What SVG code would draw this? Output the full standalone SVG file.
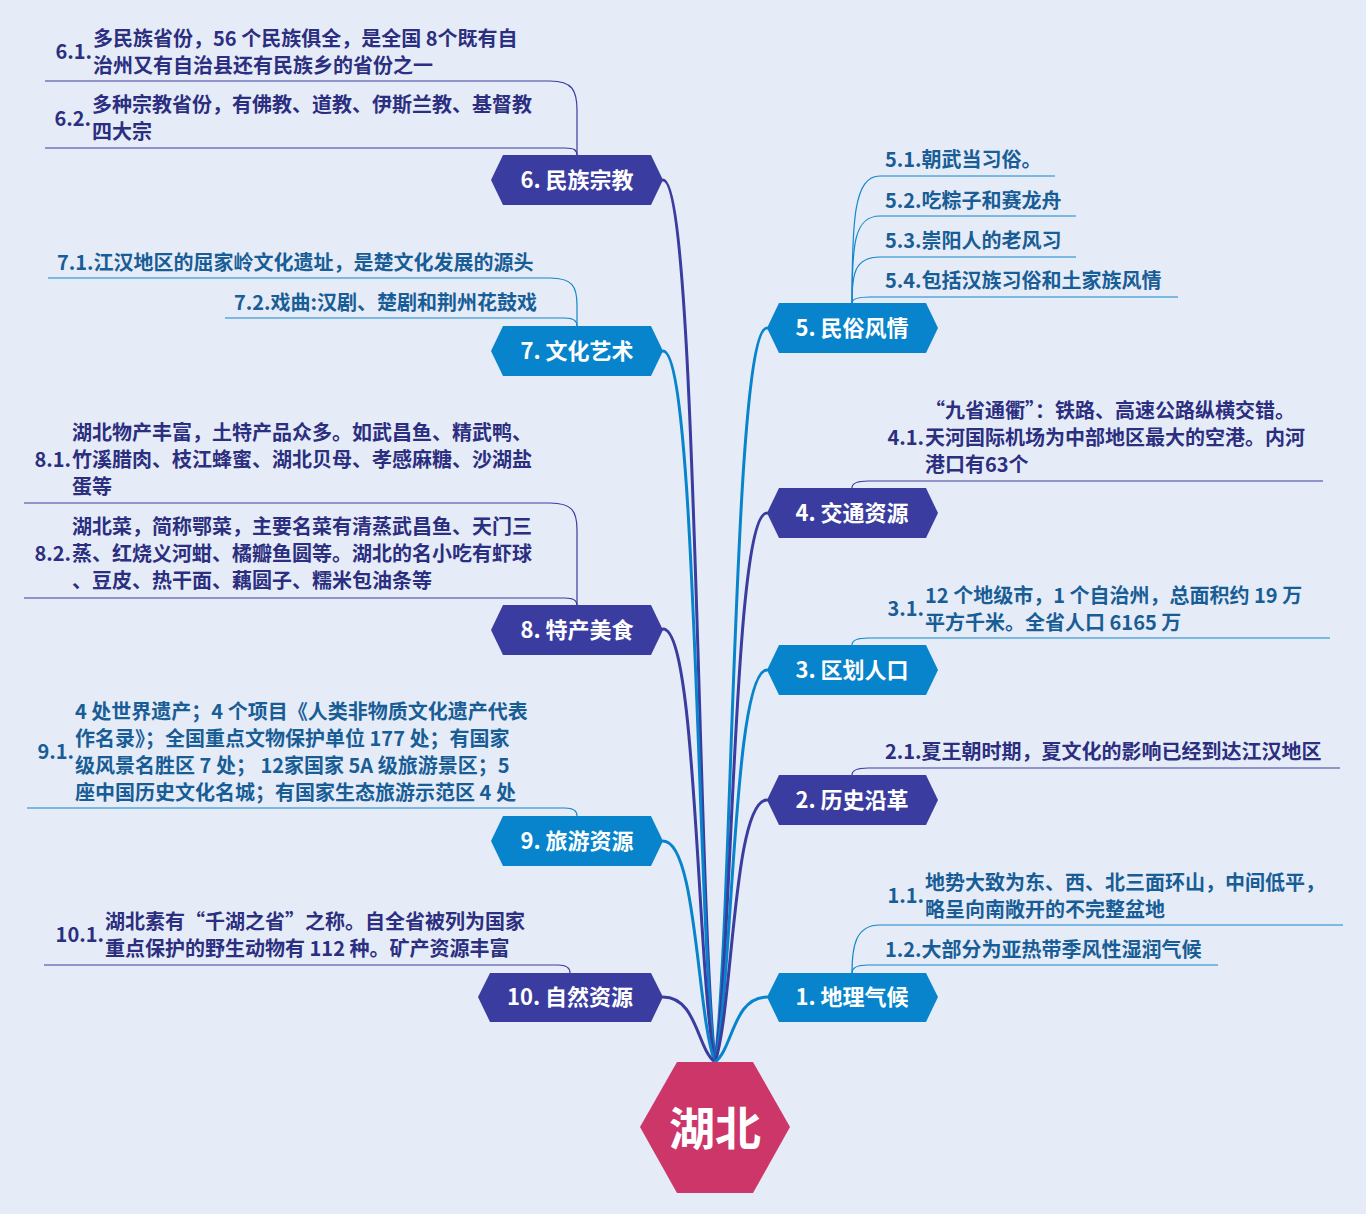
<svg xmlns="http://www.w3.org/2000/svg" width="1366" height="1214" viewBox="0 0 1366 1214">
<style>
.bg{fill:#e5ecf7}
.nd{fill:#3a3d9f}
.nl{fill:#0784cb}
.nt{font-family:"Noto Sans CJK SC","Noto Sans",sans-serif;font-size:22px;font-weight:bold;fill:#fff;text-anchor:middle}
.st{font-family:"Noto Sans CJK SC","Noto Sans",sans-serif;font-size:20px;font-weight:600}
.sd{fill:#2c2e80}
.sl{fill:#195d96}
.lb{text-anchor:end}
.cd{fill:none;stroke:#3a3d9f;stroke-width:3;stroke-linecap:round}
.cl{fill:none;stroke:#0784cb;stroke-width:3;stroke-linecap:round}
.ud{fill:none;stroke:#3a3d9f;stroke-width:1.2}
.ul{fill:none;stroke:#1486c9;stroke-width:1.2}
</style>
<rect class="bg" x="0" y="0" width="1366" height="1214"/>

<g id="connectors">
<path class="cd" d="M715,1062 C697,886 697,180 663,180"/>
<path class="cl" d="M715,1062 C697,920 697,351 663,351"/>
<path class="cd" d="M715,1062 C697,975 697,629 663,629"/>
<path class="cl" d="M715,1062 C697,1018 697,841 663,841"/>
<path class="cd" d="M715,1062 C697,1049 697,997 663,997"/>
<path class="cl" d="M715,1062 C733,915 733,328 767,328"/>
<path class="cd" d="M715,1062 C733,952 733,513 767,513"/>
<path class="cl" d="M715,1062 C733,984 733,670 767,670"/>
<path class="cd" d="M715,1062 C733,1010 733,800 767,800"/>
<path class="cl" d="M715,1062 C733,1049 733,997 767,997"/>
<path class="ud" d="M577,155 V110 C577,90 572,81 550,81 H45"/>
<path class="ud" d="M577,155 C577,150 574,148 565,148 H45"/>
<path class="ul" d="M577,326 V305 C577,286 572,278 550,278 H48"/>
<path class="ul" d="M577,326 C577,321 574,318 565,318 H225"/>
<path class="ud" d="M577,605 V530 C577,511 572,503 550,503 H24"/>
<path class="ud" d="M577,605 C577,601 574,598 565,598 H24"/>
<path class="ul" d="M577,816 C577,811 574,808 565,808 H27"/>
<path class="ud" d="M570,973 C570,968 567,965 558,965 H44"/>
<path class="ul" d="M852,303 C852,220 854,176 880,176 H1055"/>
<path class="ul" d="M852,303 C852,245 854,216 880,216 H1076"/>
<path class="ul" d="M852,303 C852,275 854,257 880,257 H1076"/>
<path class="ul" d="M852,303 C852,300 856,297 870,297 H1178"/>
<path class="ud" d="M852,488 C852,484 856,481 868,481 H1323"/>
<path class="ul" d="M852,645 C852,641 856,638 868,638 H1330"/>
<path class="ud" d="M852,775 C852,771 856,768 868,768 H1340"/>
<path class="ul" d="M852,973 C852,945 856,925 880,925 H1343"/>
<path class="ul" d="M852,973 C852,969 856,965 868,965 H1218"/>
</g>

<g id="hub">
<polygon points="677,1062 753,1062 790,1127 753,1193 677,1193 640,1127" fill="#cc3669"/>
<text x="715" y="1145" font-family="Noto Sans CJK SC, sans-serif" font-size="46" font-weight="bold" fill="#fff" text-anchor="middle">湖北</text>
</g>

<g id="n6">
<polygon class="nd" points="503,155 651,155 663,180 651,205 503,205 491,180"/>
<text class="nt" x="577" y="188">6. 民族宗教</text>
</g>
<g id="n6-1">
<text class="st sd lb" x="92" y="59">6.1.</text>
<text class="st sd" x="93"><tspan y="46">多民族省份，56 个民族俱全，是全国 8个既有自</tspan><tspan x="93" y="73">治州又有自治县还有民族乡的省份之一</tspan></text>
</g>
<g id="n6-2">
<text class="st sd lb" x="91" y="126">6.2.</text>
<text class="st sd" x="92"><tspan y="112">多种宗教省份，有佛教、道教、伊斯兰教、基督教</tspan><tspan x="92" y="139">四大宗</tspan></text>
</g>

<g id="n7">
<polygon class="nl" points="503,326 651,326 663,351 651,376 503,376 491,351"/>
<text class="nt" x="577" y="359">7. 文化艺术</text>
</g>
<g id="n7-1"><text class="st sl" x="57" y="270">7.1.江汉地区的屈家岭文化遗址，是楚文化发展的源头</text></g>
<g id="n7-2"><text class="st sl" x="234" y="310">7.2.戏曲:汉剧、楚剧和荆州花鼓戏</text></g>

<g id="n8">
<polygon class="nd" points="503,605 651,605 663,630 651,655 503,655 491,630"/>
<text class="nt" x="577" y="638">8. 特产美食</text>
</g>
<g id="n8-1">
<text class="st sd lb" x="71" y="467">8.1.</text>
<text class="st sd" x="72"><tspan y="440">湖北物产丰富，土特产品众多。如武昌鱼、精武鸭、</tspan><tspan x="72" y="467">竹溪腊肉、枝江蜂蜜、湖北贝母、孝感麻糖、沙湖盐</tspan><tspan x="72" y="494">蛋等</tspan></text>
</g>
<g id="n8-2">
<text class="st sd lb" x="71" y="561">8.2.</text>
<text class="st sd" x="72"><tspan y="534">湖北菜，简称鄂菜，主要名菜有清蒸武昌鱼、天门三</tspan><tspan x="72" y="561">蒸、红烧义河蚶、橘瓣鱼圆等。湖北的名小吃有虾球</tspan><tspan x="72" y="588">、豆皮、热干面、藕圆子、糯米包油条等</tspan></text>
</g>

<g id="n9">
<polygon class="nl" points="503,816 651,816 663,841 651,866 503,866 491,841"/>
<text class="nt" x="577" y="849">9. 旅游资源</text>
</g>
<g id="n9-1">
<text class="st sl lb" x="74" y="759">9.1.</text>
<text class="st sl" x="75"><tspan y="719">4 处世界遗产；4 个项目《人类非物质文化遗产代表</tspan><tspan x="75" y="746">作名录》；全国重点文物保护单位 177 处；有国家</tspan><tspan x="75" y="773">级风景名胜区 7 处； 12家国家 5A 级旅游景区；5</tspan><tspan x="75" y="800">座中国历史文化名城；有国家生态旅游示范区 4 处</tspan></text>
</g>

<g id="n10">
<polygon class="nd" points="490,973 651,973 663,997 651,1022 490,1022 478,997"/>
<text class="nt" x="570" y="1005">10. 自然资源</text>
</g>
<g id="n10-1">
<text class="st sd lb" x="104" y="942">10.1.</text>
<text class="st sd" x="105"><tspan y="929">湖北素有“千湖之省”之称。自全省被列为国家</tspan><tspan x="105" y="956">重点保护的野生动物有 112 种。矿产资源丰富</tspan></text>
</g>

<g id="n5">
<polygon class="nl" points="779,303 926,303 938,328 926,353 779,353 767,328"/>
<text class="nt" x="852" y="336">5. 民俗风情</text>
</g>
<g id="n5-1"><text class="st sl" x="885" y="167">5.1.朝武当习俗。</text></g>
<g id="n5-2"><text class="st sl" x="885" y="208">5.2.吃粽子和赛龙舟</text></g>
<g id="n5-3"><text class="st sl" x="885" y="248">5.3.崇阳人的老风习</text></g>
<g id="n5-4"><text class="st sl" x="885" y="288">5.4.包括汉族习俗和土家族风情</text></g>

<g id="n4">
<polygon class="nd" points="779,488 926,488 938,513 926,538 779,538 767,513"/>
<text class="nt" x="852" y="521">4. 交通资源</text>
</g>
<g id="n4-1">
<text class="st sd lb" x="924" y="445">4.1.</text>
<text class="st sd" x="925"><tspan y="418">“九省通衢”：铁路、高速公路纵横交错。</tspan><tspan x="925" y="445">天河国际机场为中部地区最大的空港。内河</tspan><tspan x="925" y="472">港口有63个</tspan></text>
</g>

<g id="n3">
<polygon class="nl" points="779,645 926,645 938,670 926,695 779,695 767,670"/>
<text class="nt" x="852" y="678">3. 区划人口</text>
</g>
<g id="n3-1">
<text class="st sl lb" x="924" y="616">3.1.</text>
<text class="st sl" x="925"><tspan y="603">12 个地级市，1 个自治州，总面积约 19 万</tspan><tspan x="925" y="630">平方千米。全省人口 6165 万</tspan></text>
</g>

<g id="n2">
<polygon class="nd" points="779,775 926,775 938,800 926,825 779,825 767,800"/>
<text class="nt" x="852" y="808">2. 历史沿革</text>
</g>
<g id="n2-1"><text class="st sd" x="885" y="759">2.1.夏王朝时期，夏文化的影响已经到达江汉地区</text></g>

<g id="n1">
<polygon class="nl" points="779,973 926,973 938,997 926,1022 779,1022 767,997"/>
<text class="nt" x="852" y="1005">1. 地理气候</text>
</g>
<g id="n1-1">
<text class="st sl lb" x="924" y="903">1.1.</text>
<text class="st sl" x="925"><tspan y="890">地势大致为东、西、北三面环山，中间低平，</tspan><tspan x="925" y="917">略呈向南敞开的不完整盆地</tspan></text>
</g>
<g id="n1-2"><text class="st sl" x="885" y="957">1.2.大部分为亚热带季风性湿润气候</text></g>
</svg>
